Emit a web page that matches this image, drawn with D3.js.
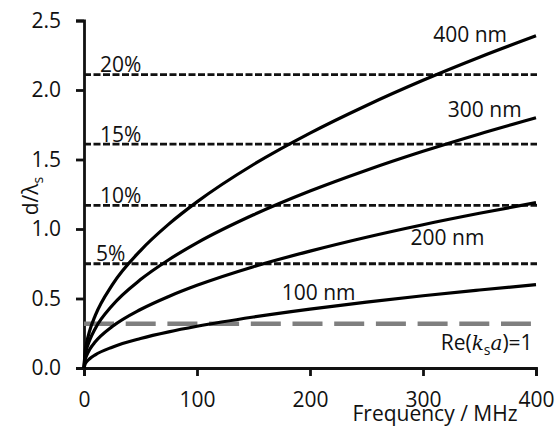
<!DOCTYPE html>
<html>
<head>
<meta charset="utf-8">
<script src="https://cdn.jsdelivr.net/npm/d3@7"></script>
<style>
  body { margin: 0; background: #fff; }
  text { font-family: "Open Sans", sans-serif; fill: #111; }
</style>
</head>
<body>
<div id="chart"></div>
<script>
// Data
const frequencies = [0, 1, 2, 5, 10, 25, 50, 75, 100, 150, 200, 250, 300, 350, 400];
const d400 = [0, 0.12, 0.169, 0.267, 0.378, 0.598, 0.845, 1.035, 1.195, 1.464, 1.69, 1.889, 2.07, 2.236, 2.39];
const d300 = [0, 0.09, 0.127, 0.20, 0.285, 0.45, 0.636, 0.779, 0.90, 1.102, 1.273, 1.423, 1.559, 1.684, 1.80];
const d200 = [0, 0.06, 0.084, 0.133, 0.188, 0.298, 0.421, 0.515, 0.595, 0.729, 0.841, 0.941, 1.031, 1.113, 1.19];
const d100 = [0, 0.03, 0.042, 0.067, 0.095, 0.15, 0.212, 0.26, 0.30, 0.367, 0.424, 0.474, 0.52, 0.561, 0.60];
const seriesNames = ["400 nm", "300 nm", "200 nm", "100 nm"];
const percentLevels = [2.11, 1.61, 1.17, 0.75];
const percentNames = ["20%", "15%", "10%", "5%"];
const resonanceLevel = 0.318; // Re(ks a)=1
const xTicks = [0, 100, 200, 300, 400];
const yTicks = [0, 0.5, 1.0, 1.5, 2.0, 2.5];

// Label anchors in data units (freq, value)
const curveLabelPos = [[309, 2.345], [322, 1.806], [289, 0.885], [175, 0.489]];

const W = 556, H = 429;
const margin = { top: 20.5, right: 20, bottom: 61, left: 84 };

const svg = d3.select("#chart").append("svg")
    .attr("width", W)
    .attr("height", H);

const x = d3.scaleLinear().domain([0, 400]).range([margin.left, W - margin.right]);
const y = d3.scaleLinear().domain([0, 2.5]).range([H - margin.bottom, margin.top]);

// Axes
const xAxis = svg.append("g")
    .attr("transform", "translate(0," + y(0) + ")")
    .call(d3.axisBottom(x).tickValues(xTicks).tickSize(8).tickPadding(16).tickFormat(d3.format("d")));
const yAxis = svg.append("g")
    .attr("transform", "translate(" + x(0) + ",0)")
    .call(d3.axisLeft(y).tickValues(yTicks).tickSize(8).tickPadding(15).tickFormat(d3.format(".1f")));
[xAxis, yAxis].forEach(g => {
    g.selectAll("path, line").attr("stroke", "#111").attr("stroke-width", 2.8);
    g.selectAll("text").style("font-size", "21px").attr("fill", "#111");
});

// Percentage dashed lines
percentLevels.forEach((v, i) => {
    svg.append("line")
        .attr("x1", x(0)).attr("x2", x(400) + 1)
        .attr("y1", y(v)).attr("y2", y(v))
        .attr("stroke", "#111").attr("stroke-width", 2.8)
        .attr("stroke-dasharray", "7,2.5");
    svg.append("text")
        .attr("x", x(0) + (i === 3 ? 12 : 16))
        .attr("y", y(v) - 2.5)
        .style("font-size", "21px")
        .text(percentNames[i]);
});

// Re(ks a)=1 line
svg.append("line")
    .attr("x1", x(0)).attr("x2", x(395.5))
    .attr("y1", y(resonanceLevel)).attr("y2", y(resonanceLevel))
    .attr("stroke", "#7f7f7f").attr("stroke-width", 4.5)
    .attr("stroke-dasharray", "30,11.7");

// Curves
const line = d3.line()
    .x((d, i) => x(frequencies[i]))
    .y(d => y(d))
    .curve(d3.curveMonotoneX);

[d400, d300, d200, d100].forEach((s, i) => {
    svg.append("path")
        .attr("d", line(s))
        .attr("fill", "none")
        .attr("stroke", "#000")
        .attr("stroke-width", 3.2);
    svg.append("text")
        .attr("x", x(curveLabelPos[i][0]))
        .attr("y", y(curveLabelPos[i][1]))
        .style("font-size", "21px")
        .text(seriesNames[i]);
});

// Re(ks a)=1 label
const re = svg.append("text")
    .attr("x", x(397))
    .attr("y", y(0.129))
    .attr("text-anchor", "end")
    .style("font-size", "21px");
re.append("tspan").text("Re(");
re.append("tspan").style("font-family", "'DejaVu Serif', serif").style("font-style", "italic").style("font-size", "20px").text("k");
re.append("tspan").attr("dy", 5).style("font-size", "14px").text("s");
re.append("tspan").attr("dy", -5).style("font-family", "'DejaVu Serif', serif").style("font-style", "italic").style("font-size", "20px").text("a");
re.append("tspan").text(")=1");

// Axis titles
svg.append("text")
    .attr("x", 435)
    .attr("y", 421)
    .attr("text-anchor", "middle")
    .style("font-size", "21px")
    .text("Frequency / MHz");

const yt = svg.append("text")
    .attr("transform", "translate(38,196) rotate(-90)")
    .attr("text-anchor", "middle")
    .style("font-size", "21px");
yt.append("tspan").text("d/λ");
yt.append("tspan").attr("dy", 5).style("font-size", "14px").text("s");
</script>
</body>
</html>
